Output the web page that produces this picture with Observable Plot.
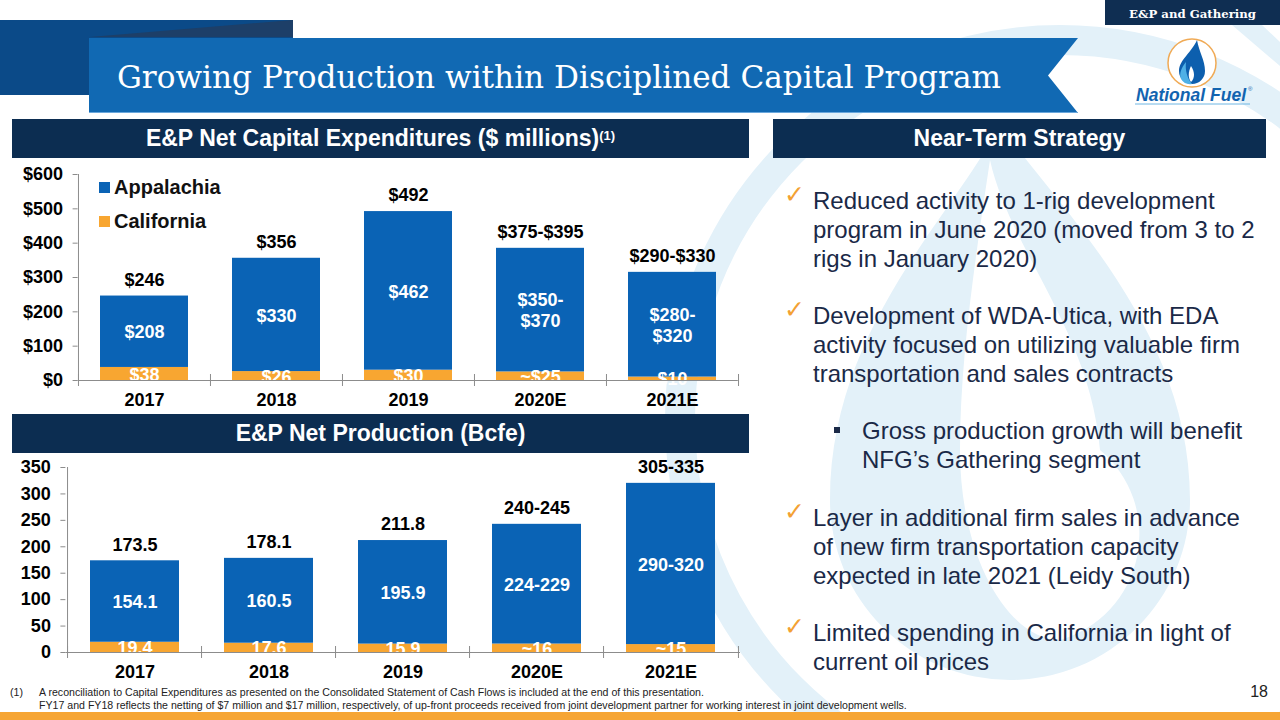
<!DOCTYPE html>
<html><head><meta charset="utf-8">
<script src="https://cdn.jsdelivr.net/npm/d3@7"></script>
<script src="https://cdn.jsdelivr.net/npm/@observablehq/plot@0.6"></script>
<style>
body{margin:0;background:#fff;}
#slide{position:relative;width:1280px;height:720px;overflow:hidden;background:#fff;font-family:"Liberation Sans",Arial,sans-serif;}
.abs{position:absolute;}
.hdr{position:absolute;background:#0c2d51;color:#fff;font-weight:bold;font-size:23px;display:flex;align-items:center;justify-content:center;white-space:nowrap;}
.hdr sup{font-size:13px;position:relative;top:-3px;}
.para{position:absolute;left:785px;font-size:24px;line-height:29px;color:#1a2947;white-space:nowrap;}
.para .txt{position:absolute;left:28px;top:0;}
.chk{position:absolute;left:-1px;top:-6px;font-family:"DejaVu Sans",sans-serif;font-size:25px;color:#f3a133;}
.leg{position:absolute;font-size:20px;font-weight:bold;color:#111;white-space:nowrap;}
.leg i{position:absolute;left:-15px;top:6px;width:11px;height:11px;}
.foot{position:absolute;left:10px;font-size:10.6px;color:#222;white-space:nowrap;}
.chart{position:absolute;left:0;}
</style></head>
<body><div id="slide">
<svg class="abs" style="left:0;top:0" width="1280" height="720">
  <!-- watermark -->
  <g fill="none" stroke="#e3f1f9">
    <circle cx="1060" cy="420" r="380" stroke-width="30"/>
  </g>
  <path d="M1000,125 C1060,210 1190,330 1190,500 A180,180 0 1 1 830,500 C830,330 950,220 1000,125 Z" fill="#e3f1f9"/>
  <path d="M990,160 C975,260 960,360 960,450 C960,560 1010,640 1060,640 A110,110 0 0 0 1100,450 C1090,330 1010,250 990,160 Z" fill="#ffffff"/>
  <!-- top-right stripes -->
  <polygon points="1232,25 1262,25 1280,42 1280,66" fill="#e3f1f9"/>
  <!-- title block -->
  <rect x="0" y="20" width="293" height="75" fill="#0b4a88"/>
  <polygon points="90,37 293,20 293,37" fill="#1d3f68"/>
  <polygon points="89,38 1078,38 1048,75.5 1078,113 89,113" fill="#1169b3"/>
  <line x1="89" y1="112.5" x2="1077" y2="112.5" stroke="#6aa7dc" stroke-width="1"/>
  <text x="117" y="88" fill="#fff" font-family="DejaVu Serif, serif" font-size="31.5" textLength="884" lengthAdjust="spacingAndGlyphs">Growing Production within Disciplined Capital Program</text>
  <!-- top right tag -->
  <rect x="1105" y="0" width="175" height="25" fill="#0f2e52"/>
  <text x="1129" y="17.5" fill="#fff" font-family="DejaVu Serif, serif" font-weight="bold" font-size="11" textLength="127" lengthAdjust="spacingAndGlyphs">E&amp;P and Gathering</text>
  <!-- logo -->
  <circle cx="1192" cy="63" r="24" fill="#fff" stroke="#f0aa55" stroke-width="1.5"/>
  <path d="M1197,40 C1199,52 1205,60 1205,71 A13,13 0 1 1 1179,71 C1179,60 1192,52 1197,40 Z" fill="#0d5fae"/>
  <path d="M1186,62 C1181,68 1179,74 1181,79 A11,11 0 0 0 1192,84 C1187,78 1185,70 1186,62 Z" fill="#4fb0e6"/>
  <path d="M1191,66 C1188,72 1188,78 1191,82 C1195,78 1195,72 1191,66 Z" fill="#fff"/>
  <text x="1136" y="101" fill="#1264b0" font-family="Liberation Sans, Arial, sans-serif" font-weight="bold" font-style="italic" font-size="18" textLength="110" lengthAdjust="spacingAndGlyphs">National Fuel</text>
  <text x="1248" y="91" fill="#1264b0" font-family="Liberation Sans, Arial, sans-serif" font-size="6">®</text>
  <line x1="1135" y1="104" x2="1250" y2="104" stroke="#6fb6e3" stroke-width="1"/>
  <!-- bottom bar -->
  <rect x="0" y="712" width="1280" height="8" fill="#f6a534"/>
</svg>

<div class="hdr" style="left:12px;top:119px;width:737px;height:39px;">E&amp;P Net Capital Expenditures ($ millions)<sup>(1)</sup></div>
<div class="hdr" style="left:773px;top:119px;width:493px;height:39px;">Near-Term Strategy</div>
<div class="hdr" style="left:12px;top:414px;width:737px;height:39px;">E&amp;P Net Production (Bcfe)</div>

<div id="c1" class="chart" style="top:160px;"></div>
<div id="c2" class="chart" style="top:455px;"></div>
<div id="legend"></div>

<div class="para" style="top:185.5px;"><span class="chk">✓</span><div class="txt">Reduced activity to 1-rig development<br>program in June 2020 (moved from 3 to 2<br>rigs in January 2020)</div></div>
<div class="para" style="top:300.5px;"><span class="chk">✓</span><div class="txt">Development of WDA-Utica, with EDA<br>activity focused on utilizing valuable firm<br>transportation and sales contracts</div></div>
<div class="abs" style="left:834px;top:427px;width:6px;height:6px;background:#1a2947;"></div>
<div class="para" style="top:415.5px;left:862px;"><div class="txt" style="left:0">Gross production growth will benefit<br>NFG’s Gathering segment</div></div>
<div class="para" style="top:502.5px;"><span class="chk">✓</span><div class="txt">Layer in additional firm sales in advance<br>of new firm transportation capacity<br>expected in late 2021 (Leidy South)</div></div>
<div class="para" style="top:617.5px;"><span class="chk">✓</span><div class="txt">Limited spending in California in light of<br>current oil prices</div></div>

<div class="foot" style="top:686px;">(1)</div>
<div class="foot" style="top:686px;left:39px;">A reconciliation to Capital Expenditures as presented on the Consolidated Statement of Cash Flows is included at the end of this presentation.</div>
<div class="foot" style="top:699px;left:39px;">FY17 and FY18 reflects the netting of $7 million and $17 million, respectively, of up-front proceeds received from joint development partner for working interest in joint development wells.</div>
<div class="abs" style="left:1240px;top:683px;width:28px;text-align:right;font-size:16px;color:#222;">18</div>
</div>

<script>
// ---- data ----
const years = ["2017", "2018", "2019", "2020E", "2021E"];
const series = ["Appalachia", "California"];
const seriesColors = ["#0a63b5", "#f8a631"];

const capexAppalachia = [208, 330, 462, 360, 305];
const capexCalifornia = [38, 26, 30, 25, 10];
const capexAppalachiaLabels = ["$208", "$330", "$462", "$350-\n$370", "$280-\n$320"];
const capexCaliforniaLabels = ["$38", "$26", "$30", "~$25", "$10"];
const capexTotalLabels = ["$246", "$356", "$492", "$375-$395", "$290-$330"];
const capexTicks = [0, 100, 200, 300, 400, 500, 600];

const prodAppalachia = [154.1, 160.5, 195.9, 226.5, 305];
const prodCalifornia = [19.4, 17.6, 15.9, 16, 15];
const prodAppalachiaLabels = ["154.1", "160.5", "195.9", "224-229", "290-320"];
const prodCaliforniaLabels = ["19.4", "17.6", "15.9", "~16", "~15"];
const prodTotalLabels = ["173.5", "178.1", "211.8", "240-245", "305-335"];
const prodTicks = [0, 50, 100, 150, 200, 250, 300, 350];

const AXIS = "#8c8c8c";

function stacked({app, cal, appLabels, calLabels, totalLabels, ticks, fmt, ml, mr, mt, mb, height}) {
  const rows = [];
  years.forEach((y, i) => rows.push({year: y, region: series[1], value: cal[i], label: calLabels[i]}));
  years.forEach((y, i) => rows.push({year: y, region: series[0], value: app[i], label: appLabels[i]}));
  const totals = years.map((y, i) => ({year: y, total: app[i] + cal[i], label: totalLabels[i]}));
  const width = 760;
  const step = (width - ml - mr) / years.length;
  const yMax = ticks[ticks.length - 1];
  return Plot.plot({
    width, height, marginLeft: ml, marginRight: mr, marginTop: mt, marginBottom: mb,
    style: {background: "transparent", fontFamily: "'Liberation Sans', Arial, sans-serif", fontSize: "18px", fontWeight: "bold", color: "#000", overflow: "visible"},
    x: {domain: years, paddingInner: 0.333, paddingOuter: 0.1667, axis: null},
    y: {domain: [0, yMax], axis: null},
    color: {domain: series, range: seriesColors},
    marks: [
      Plot.barY(rows, {x: "year", y: "value", fill: "region"}),
      Plot.text(rows, Plot.stackY({x: "year", y: "value", z: "region", text: "label", fill: "white", lineHeight: 1.15})),
      Plot.text(totals, {x: "year", y: "total", text: "label", dy: -16, fill: "black"}),
      Plot.ruleY([0], {stroke: AXIS}),
      Plot.ruleX([years[0]], {dx: -step / 2, y1: 0, y2: yMax, stroke: AXIS}),
      Plot.ruleX(years, {dx: -step / 2, y1: 0, y2: 0, insetTop: -6, insetBottom: -6, stroke: AXIS}),
      Plot.ruleX([years[years.length - 1]], {dx: step / 2, y1: 0, y2: 0, insetTop: -6, insetBottom: -6, stroke: AXIS}),
      Plot.axisY({ticks, tickFormat: fmt, tickSize: 5, tickPadding: 10, stroke: AXIS, label: null}),
      Plot.axisX({tickSize: 0, tickPadding: 13, label: null})
    ]
  });
}

document.getElementById("c1").append(stacked({
  app: capexAppalachia, cal: capexCalifornia,
  appLabels: capexAppalachiaLabels, calLabels: capexCaliforniaLabels, totalLabels: capexTotalLabels,
  ticks: capexTicks, fmt: d => "$" + d,
  ml: 77.6, mr: 22.2, mt: 14, mb: 34, height: 254
}));
document.getElementById("c2").append(stacked({
  app: prodAppalachia, cal: prodCalifornia,
  appLabels: prodAppalachiaLabels, calLabels: prodCaliforniaLabels, totalLabels: prodTotalLabels,
  ticks: prodTicks, fmt: d => String(d),
  ml: 65.4, mr: 20, mt: 12, mb: 36, height: 233
}));

// legend (vertical swatches inside chart 1)
const leg = document.getElementById("legend");
series.forEach((s, i) => {
  const d = document.createElement("div");
  d.className = "leg";
  d.style.left = "114px";
  d.style.top = (176 + i * 34) + "px";
  d.innerHTML = `<i style="background:${seriesColors[i]}"></i>${s}`;
  leg.append(d);
});
</script>
</body></html>
